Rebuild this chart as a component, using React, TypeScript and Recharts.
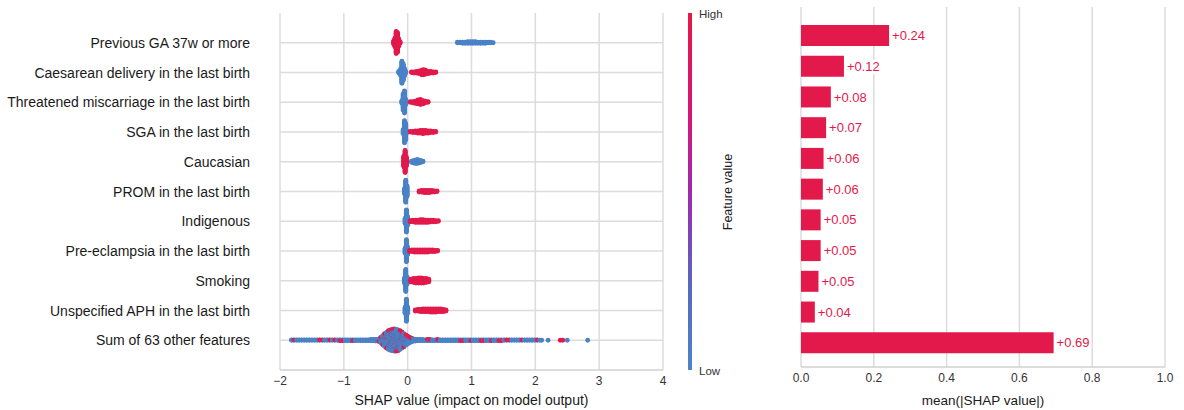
import React from "react";
import {
  Bar,
  BarChart,
  CartesianGrid,
  LabelList,
  Scatter,
  ScatterChart,
  XAxis,
  YAxis,
} from "recharts";

const FONT = '"Liberation Sans", Arial, sans-serif';
const RED = "#e3194b";
const BLUE = "#4a82c6";

const FEATURES = [
  "Previous GA 37w or more",
  "Caesarean delivery in the last birth",
  "Threatened miscarriage in the last birth",
  "SGA in the last birth",
  "Caucasian",
  "PROM in the last birth",
  "Indigenous",
  "Pre-eclampsia in the last birth",
  "Smoking",
  "Unspecified APH in the last birth",
  "Sum of 63 other features",
];

const MEAN_ABS_SHAP = [0.242, 0.118, 0.082, 0.069, 0.062, 0.06, 0.054, 0.054, 0.048, 0.038, 0.694];

const SHAP_TICKS = [-2, -1, 0, 1, 2, 3, 4];
const MEAN_TICKS = [0, 0.2, 0.4, 0.6, 0.8, 1.0];

// beeswarm bins: [shap value, n low, n high]
type Bin = [number, number, number];

const SWARM_GA37: Bin[] = [
  [-0.22, 0, 6], [-0.2, 0, 16], [-0.18, 0, 40], [-0.16, 0, 36], [-0.14, 0, 14], [-0.12, 0, 4],
  [0.78, 2, 0], [0.82, 2, 0], [0.86, 3, 0], [0.9, 3, 0], [0.94, 4, 0], [0.98, 4, 0], [1.02, 4, 0],
  [1.06, 4, 0], [1.1, 3, 0], [1.14, 3, 0], [1.18, 3, 0], [1.22, 3, 0], [1.26, 2, 0], [1.3, 2, 0],
  [1.34, 1, 0],
];
const SWARM_CAESAREAN: Bin[] = [
  [-0.14, 4, 0], [-0.11, 12, 0], [-0.09, 40, 0], [-0.07, 30, 0], [-0.05, 14, 0], [-0.03, 4, 0],
  [0.06, 0, 2], [0.1, 0, 3], [0.14, 0, 4], [0.18, 0, 6], [0.22, 0, 9], [0.25, 0, 10], [0.28, 0, 8],
  [0.32, 0, 5], [0.36, 0, 4], [0.4, 0, 3], [0.44, 0, 2],
];
const SWARM_MISCARRIAGE: Bin[] = [
  [-0.09, 6, 0], [-0.07, 30, 0], [-0.05, 40, 0], [-0.03, 10, 0],
  [0.04, 0, 2], [0.08, 0, 3], [0.12, 0, 5], [0.16, 0, 8], [0.2, 0, 10], [0.24, 0, 7], [0.28, 0, 4],
  [0.32, 0, 2],
];
const SWARM_SGA: Bin[] = [
  [-0.07, 8, 0], [-0.05, 40, 0], [-0.03, 30, 0], [-0.01, 4, 0],
  [0.04, 0, 2], [0.08, 0, 3], [0.12, 0, 4], [0.16, 0, 5], [0.2, 0, 6], [0.24, 0, 7], [0.28, 0, 6],
  [0.32, 0, 5], [0.36, 0, 4], [0.4, 0, 3], [0.44, 0, 2],
];
const SWARM_CAUCASIAN: Bin[] = [
  [-0.06, 0, 20], [-0.04, 0, 40], [-0.02, 0, 16],
  [0.06, 3, 0], [0.09, 5, 0], [0.12, 7, 0], [0.15, 8, 0], [0.18, 6, 0], [0.21, 4, 0], [0.24, 2, 0],
];
const SWARM_PROM: Bin[] = [
  [-0.05, 10, 0], [-0.03, 40, 0], [-0.01, 20, 0],
  [0.18, 0, 3], [0.22, 0, 4], [0.26, 0, 5], [0.3, 0, 5], [0.34, 0, 5], [0.38, 0, 4], [0.42, 0, 3],
  [0.46, 0, 2],
];
const SWARM_INDIGENOUS: Bin[] = [
  [-0.04, 10, 0], [-0.02, 40, 0], [0, 16, 0],
  [0.04, 0, 3], [0.08, 0, 4], [0.12, 0, 5], [0.16, 0, 5], [0.2, 0, 6], [0.24, 0, 6], [0.28, 0, 5],
  [0.32, 0, 5], [0.36, 0, 4], [0.4, 0, 4], [0.44, 0, 3], [0.48, 0, 2],
];
const SWARM_PREECLAMPSIA: Bin[] = [
  [-0.04, 10, 0], [-0.02, 40, 0], [0, 14, 0],
  [0.03, 0, 3], [0.07, 0, 4], [0.11, 0, 5], [0.15, 0, 5], [0.19, 0, 5], [0.23, 0, 5], [0.27, 0, 5],
  [0.31, 0, 5], [0.35, 0, 4], [0.39, 0, 4], [0.43, 0, 3], [0.47, 0, 2],
];
const SWARM_SMOKING: Bin[] = [
  [-0.05, 10, 0], [-0.03, 40, 0], [-0.01, 14, 0],
  [0.05, 0, 6], [0.09, 0, 8], [0.13, 0, 9], [0.17, 0, 10], [0.21, 0, 10], [0.25, 0, 9], [0.29, 0, 8],
  [0.33, 0, 6],
];
const SWARM_APH: Bin[] = [
  [-0.04, 12, 0], [-0.02, 40, 0], [0, 12, 0],
  [0.12, 0, 3], [0.16, 0, 4], [0.2, 0, 5], [0.24, 0, 6], [0.28, 0, 6], [0.32, 0, 6], [0.36, 0, 7],
  [0.4, 0, 7], [0.44, 0, 7], [0.48, 0, 6], [0.52, 0, 6], [0.56, 0, 5], [0.6, 0, 3],
];
const SWARM_OTHERS: Bin[] = [
  // left tail
  [-1.82, 2, 0], [-1.78, 1, 1], [-1.74, 2, 0], [-1.7, 2, 0], [-1.66, 2, 0], [-1.62, 2, 0],
  [-1.58, 2, 0], [-1.54, 2, 0], [-1.5, 2, 0], [-1.46, 2, 0], [-1.42, 2, 0], [-1.38, 1, 1],
  [-1.34, 1, 1], [-1.3, 2, 0], [-1.26, 2, 0], [-1.22, 1, 1], [-1.18, 2, 0], [-1.14, 1, 1],
  [-1.1, 2, 0], [-1.06, 2, 1], [-1.02, 2, 1], [-0.98, 3, 0], [-0.94, 3, 0], [-0.9, 3, 0],
  [-0.86, 2, 1], [-0.82, 3, 0], [-0.78, 3, 0], [-0.74, 3, 0], [-0.7, 3, 0], [-0.66, 3, 0],
  [-0.62, 3, 0], [-0.58, 4, 0], [-0.54, 4, 0], [-0.5, 5, 0],
  // bulk
  [-0.45, 6, 1], [-0.42, 12, 2], [-0.39, 20, 3], [-0.36, 28, 4], [-0.33, 34, 5], [-0.3, 40, 6],
  [-0.27, 44, 6], [-0.24, 46, 6], [-0.21, 48, 6], [-0.18, 48, 5], [-0.15, 46, 5], [-0.12, 42, 4],
  [-0.09, 36, 4], [-0.06, 30, 3], [-0.03, 24, 2], [0, 18, 2], [0.03, 13, 1], [0.06, 9, 1],
  [0.09, 6, 0], [0.12, 5, 0],
  // right tail
  [0.15, 4, 0], [0.19, 4, 0], [0.23, 4, 0], [0.27, 3, 0], [0.31, 3, 1], [0.35, 3, 1], [0.39, 3, 0],
  [0.43, 3, 0], [0.47, 3, 1], [0.51, 3, 0], [0.55, 3, 0], [0.59, 3, 0], [0.63, 3, 0], [0.67, 3, 0],
  [0.71, 3, 0], [0.75, 3, 0], [0.79, 3, 0], [0.83, 2, 1], [0.87, 2, 1], [0.91, 3, 0], [0.95, 3, 0],
  [0.99, 2, 1], [1.03, 3, 0], [1.07, 3, 0], [1.11, 3, 0], [1.15, 2, 1], [1.19, 2, 1], [1.23, 3, 0],
  [1.27, 3, 0], [1.31, 2, 1], [1.35, 3, 0], [1.39, 3, 0], [1.43, 2, 1], [1.47, 2, 1], [1.51, 2, 0],
  [1.55, 1, 1], [1.59, 1, 1], [1.63, 2, 0], [1.67, 2, 0], [1.71, 2, 0], [1.75, 2, 0], [1.79, 1, 1],
  [1.83, 2, 0], [1.87, 2, 0], [1.91, 2, 0], [1.95, 2, 0], [1.99, 2, 0], [2.03, 1, 1], [2.07, 1, 0],
  [2.1, 1, 0], [2.2, 1, 0], [2.39, 0, 1], [2.43, 0, 1], [2.5, 1, 0], [2.82, 1, 0],
];

const SWARMS = [
  SWARM_GA37,
  SWARM_CAESAREAN,
  SWARM_MISCARRIAGE,
  SWARM_SGA,
  SWARM_CAUCASIAN,
  SWARM_PROM,
  SWARM_INDIGENOUS,
  SWARM_PREECLAMPSIA,
  SWARM_SMOKING,
  SWARM_APH,
  SWARM_OTHERS,
];

const ROW_HALF = 0.38;
const ROW_TICKS = FEATURES.map((_, i) => FEATURES.length - i);

// stack each bin's points up and down around the row, like shap does
function swarmPoints(bins: Bin[], rowY: number) {
  const maxN = Math.max(...bins.map((b) => b[1] + b[2]));
  const step = ROW_HALF / Math.max(1, Math.ceil((maxN - 1) / 2));
  const out: { x: number; y: number; c: string }[] = [];
  bins.forEach(([x, lo, hi]) => {
    const n = lo + hi;
    for (let i = 0; i < n; i++) {
      const k = Math.ceil(i / 2) * (i % 2 ? 1 : -1);
      const high = Math.floor(((i + 1) * hi) / n) > Math.floor((i * hi) / n);
      out.push({ x, y: rowY + k * step, c: high ? RED : BLUE });
    }
  });
  return out;
}

const points = SWARMS.flatMap((bins, i) => swarmPoints(bins, FEATURES.length - i));
const barRows = FEATURES.map((name, i) => ({ name, v: MEAN_ABS_SHAP[i] }));

function FeatureTick(props: any) {
  const { y, payload } = props;
  return (
    <text x={250} y={y} dy={5} textAnchor="end" fontSize={14} fill="#1a1a1a" fontFamily={FONT}>
      {FEATURES[FEATURES.length - payload.value]}
    </text>
  );
}

function Dot(props: any) {
  const { cx, cy, payload } = props;
  return <circle cx={cx} cy={cy} r={2.4} fill={payload.c} />;
}

function fmtShap(v: number) {
  return v < 0 ? `\u2212${Math.abs(v)}` : `${v}`;
}

// zero line drawn as a grid line so it stays under the dots
function zeroLine(props: any) {
  const scale = props?.xAxis?.scale;
  return typeof scale === "function" ? [scale(0)] : [];
}

function Colorbar() {
  return (
    <svg width={110} height={410} style={{ position: "absolute", left: 680, top: 0 }}>
      <defs>
        <linearGradient id="fv" x1="0" y1="0" x2="0" y2="1">
          <stop offset="0" stopColor="#e8174a" />
          <stop offset="0.3" stopColor="#d4177c" />
          <stop offset="0.52" stopColor="#9a2cb0" />
          <stop offset="0.75" stopColor="#5a66bd" />
          <stop offset="1" stopColor="#4a85c8" />
        </linearGradient>
      </defs>
      <rect x={8} y={13} width={4} height={357} fill="url(#fv)" />
      <text x={19} y={18} fontSize={11.5} fill="#333" fontFamily={FONT}>
        High
      </text>
      <text x={19} y={375} fontSize={11.5} fill="#333" fontFamily={FONT}>
        Low
      </text>
      <text
        x={0}
        y={0}
        transform="translate(52,192) rotate(-90)"
        textAnchor="middle"
        fontSize={12.5}
        fill="#1a1a1a"
        fontFamily={FONT}
      >
        Feature value
      </text>
    </svg>
  );
}

export default function App() {
  return (
    <div
      style={{
        position: "fixed",
        left: 0,
        top: 0,
        width: 1184,
        height: 410,
        background: "#fff",
        fontFamily: FONT,
      }}
    >
      <div style={{ position: "absolute", left: 0, top: 0 }}>
        <ScatterChart width={680} height={410} margin={{ top: 13, right: 17, left: 0, bottom: 0 }}>
          <CartesianGrid stroke="#dcdcdc" strokeWidth={1.5} syncWithTicks />
          <CartesianGrid
            horizontal={false}
            stroke="#c4c4c4"
            strokeWidth={3}
            verticalCoordinatesGenerator={zeroLine}
          />
          <XAxis
            type="number"
            dataKey="x"
            domain={[-2, 4]}
            ticks={SHAP_TICKS}
            tickFormatter={fmtShap}
            height={40}
            tickLine={false}
            tickSize={4}
            axisLine={{ stroke: "#d0d0d0", strokeWidth: 1.5 }}
            tick={{ fontSize: 12, fill: "#333", fontFamily: FONT }}
            label={{
              value: "SHAP value (impact on model output)",
              position: "insideBottom",
              offset: 5,
              fontSize: 14,
              fill: "#1a1a1a",
              fontFamily: FONT,
            }}
          />
          <YAxis
            type="number"
            dataKey="y"
            domain={[0, 12]}
            ticks={ROW_TICKS}
            width={280}
            axisLine={false}
            tickLine={false}
            tick={<FeatureTick />}
          />
          <Scatter data={points} shape={<Dot />} isAnimationActive={false} />
        </ScatterChart>
      </div>

      <Colorbar />

      <div style={{ position: "absolute", left: 760, top: 0 }}>
        <BarChart
          width={424}
          height={410}
          data={barRows}
          layout="vertical"
          margin={{ top: 7, right: 19, left: 41, bottom: 0 }}
        >
          <CartesianGrid horizontal={false} stroke="#dcdcdc" strokeWidth={1.5} syncWithTicks />
          <CartesianGrid vertical={false} stroke="#cccccc" strokeDasharray="1 4" syncWithTicks />
          <XAxis
            type="number"
            domain={[0, 1]}
            ticks={MEAN_TICKS}
            tickFormatter={(v: number) => v.toFixed(1)}
            height={43}
            tickLine={false}
            tickSize={4}
            axisLine={{ stroke: "#d0d0d0", strokeWidth: 1.5 }}
            tick={{ fontSize: 12, fill: "#333", fontFamily: FONT }}
            label={{
              value: "mean(|SHAP value|)",
              position: "insideBottom",
              offset: 5,
              fontSize: 13.5,
              fill: "#1a1a1a",
              fontFamily: FONT,
            }}
          />
          <YAxis
            type="category"
            dataKey="name"
            width={0}
            tick={false}
            tickLine={false}
            axisLine={{ stroke: "#d0d0d0", strokeWidth: 1.5 }}
            padding={{ top: 13, bottom: 9 }}
          />
          <Bar dataKey="v" fill={RED} barSize={21} isAnimationActive={false}>
            <LabelList
              dataKey="v"
              position="right"
              offset={3}
              formatter={(v: any) => `+${Number(v).toFixed(2)}`}
              fill={RED}
              fontSize={13}
              fontFamily={FONT}
              stroke="#fff"
              strokeWidth={5}
              paintOrder="stroke"
            />
          </Bar>
        </BarChart>
      </div>
    </div>
  );
}
